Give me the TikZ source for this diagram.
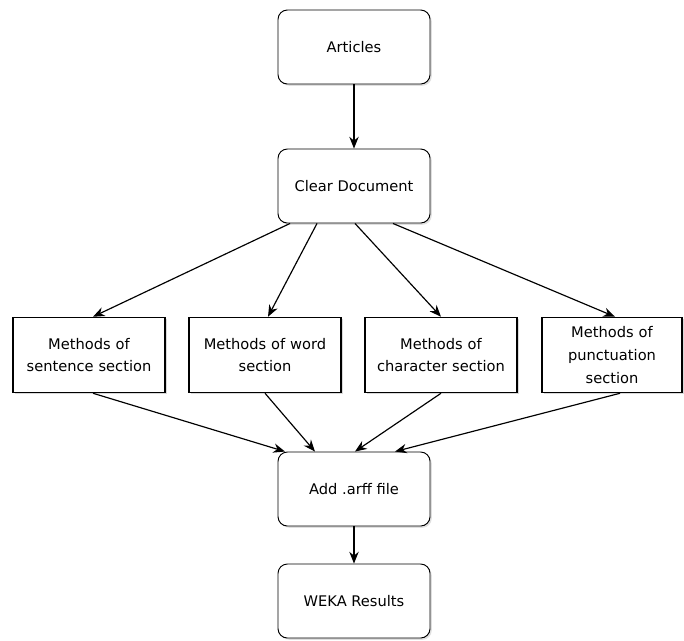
\documentclass[tikz,border=0pt]{standalone}
\usepackage{fontspec}
\setmainfont{DejaVu Sans}
\usepackage{tikz}
\usetikzlibrary{arrows.meta,shadows,positioning}

\begin{document}
\begin{tikzpicture}[x=0.03cm, y=-0.03cm,
		every node/.style = {font=\fontsize{12.5}{19.5}\selectfont, align=center, fill=white},
		stage/.style = {draw, rounded corners=8pt, line width=0.8pt, minimum width=4.56cm, minimum height=2.22cm,
			drop shadow={opacity=0.25, shadow xshift=1.5pt, shadow yshift=-1.5pt}},
		method/.style = {draw, line width=1.3pt, minimum width=4.56cm, minimum height=2.25cm, text width=4.3cm,
			drop shadow={opacity=0.3, shadow xshift=1.5pt, shadow yshift=-1.5pt}},
		flow/.style = {-{Stealth[length=10pt, width=8pt]}, line width=1pt}
		]
		\useasboundingbox (0,0) rectangle (684,640);
		% top part
		\node[stage] (articles) at (354,47) {Articles};
		\node[stage] (clear) at (354,186) {Clear Document};
		% four feature groups
		\node[method] (sentence) at (89,355) {Methods of\\sentence section};
		\node[method] (word) at (265,355) {Methods of word\\section};
		\node[method] (character) at (441,355) {Methods of\\character section};
		\node[method, minimum width=4.2cm, text width=3.9cm] (punctuation) at (612,355) {Methods of\\punctuation\\section};
		% bottom part
		\node[stage] (arff) at (354,489) {Add .arff file};
		\node[stage] (weka) at (354,601) {WEKA Results};

		\draw[flow] (articles) -- (clear);
		\draw[flow] ([xshift=-1.92cm]clear.south) -- ([xshift=0.12cm]sentence.north);
		\draw[flow] ([xshift=-1.11cm]clear.south) -- ([xshift=0.09cm]word.north);
		\draw[flow] ([xshift=0.03cm]clear.south) -- (character.north);
		\draw[flow] ([xshift=1.17cm]clear.south) -- ([xshift=0.09cm]punctuation.north);
		\draw[flow] ([xshift=0.12cm]sentence.south) -- ([xshift=-2.07cm]arff.north);
		\draw[flow] (word.south) -- ([xshift=-1.17cm]arff.north);
		\draw[flow] (character.south) -- ([xshift=0.03cm]arff.north);
		\draw[flow] ([xshift=0.24cm]punctuation.south) -- ([xshift=1.23cm]arff.north);
		\draw[flow] (arff) -- (weka);
	\end{tikzpicture}
\end{document}
